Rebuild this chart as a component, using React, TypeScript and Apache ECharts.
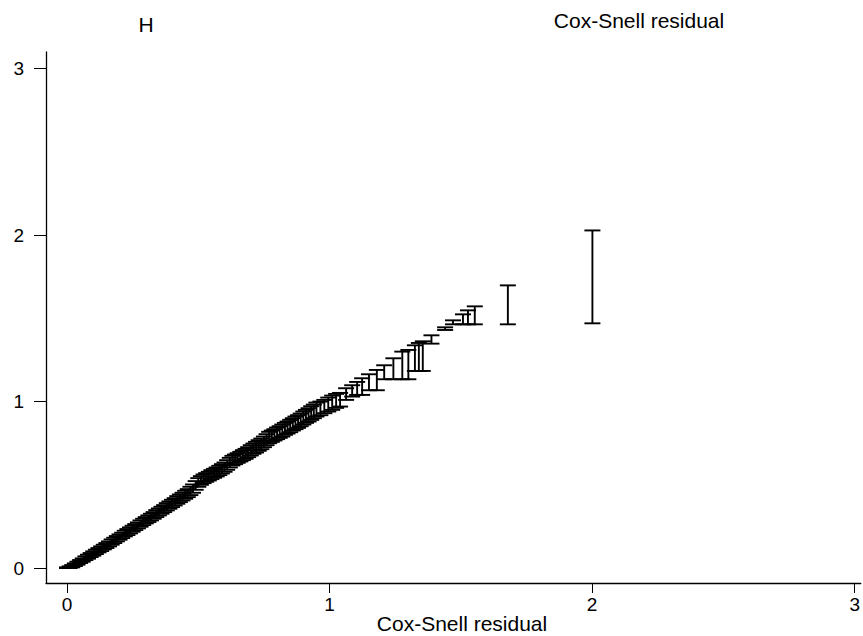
import React, { useEffect, useRef } from "react";
import * as echarts from "echarts";

// Cox-Snell residuals (x) and Nelson-Aalen cumulative hazard bounds (low/high)
const resid = [
  0.0, 0.01, 0.02, 0.03, 0.04, 0.05, 0.06, 0.07, 0.08, 0.09,
  0.1, 0.11, 0.12, 0.13, 0.14, 0.15, 0.16, 0.17, 0.18, 0.19,
  0.2, 0.21, 0.22, 0.23, 0.24, 0.25, 0.26, 0.27, 0.28, 0.29,
  0.3, 0.31, 0.32, 0.33, 0.34, 0.35, 0.36, 0.37, 0.38, 0.39,
  0.4, 0.41, 0.42, 0.43, 0.44, 0.45, 0.46, 0.47, 0.48, 0.49,
  0.5, 0.51, 0.52, 0.53, 0.54, 0.55, 0.56, 0.57, 0.58, 0.59,
  0.6, 0.61, 0.62, 0.63, 0.64, 0.65, 0.66, 0.67, 0.68, 0.69,
  0.7, 0.71, 0.72, 0.73, 0.74, 0.75, 0.76, 0.77, 0.78, 0.79,
  0.8, 0.81, 0.82, 0.83, 0.84, 0.85, 0.86, 0.87, 0.88, 0.89,
  0.9, 0.91, 0.92, 0.93, 0.94, 0.95, 0.965, 0.98, 0.995, 1.01,
  1.025, 1.04, 1.063, 1.086, 1.105, 1.124, 1.15, 1.18, 1.208, 1.243,
  1.277, 1.3, 1.325, 1.34, 1.355, 1.388, 1.44, 1.47, 1.508, 1.527,
  1.553, 1.679, 2.001,
];
const hazLow = [
  0.0, 0.0, 0.004, 0.012, 0.02, 0.03, 0.038, 0.048, 0.056, 0.066,
  0.074, 0.084, 0.094, 0.102, 0.112, 0.12, 0.13, 0.14, 0.15, 0.16,
  0.17, 0.18, 0.19, 0.198, 0.208, 0.218, 0.228, 0.238, 0.248, 0.258,
  0.268, 0.276, 0.286, 0.296, 0.306, 0.316, 0.326, 0.336, 0.346, 0.356,
  0.366, 0.376, 0.386, 0.396, 0.406, 0.416, 0.426, 0.438, 0.452, 0.47,
  0.488, 0.5, 0.51, 0.518, 0.526, 0.534, 0.542, 0.55, 0.558, 0.568,
  0.578, 0.59, 0.604, 0.616, 0.624, 0.632, 0.64, 0.648, 0.656, 0.666,
  0.676, 0.686, 0.694, 0.704, 0.714, 0.726, 0.738, 0.75, 0.758, 0.766,
  0.774, 0.782, 0.79, 0.8, 0.808, 0.816, 0.826, 0.834, 0.842, 0.852,
  0.862, 0.872, 0.88, 0.89, 0.9, 0.91, 0.918, 0.93, 0.94, 0.95,
  0.962, 0.97, 1.01, 1.03, 1.04, 1.04, 1.068, 1.068, 1.134, 1.134,
  1.134, 1.134, 1.184, 1.184, 1.184, 1.348, 1.43, 1.464, 1.464, 1.464,
  1.464, 1.464, 1.47,
];
const hazHigh = [
  0.004, 0.01, 0.018, 0.028, 0.038, 0.048, 0.058, 0.07, 0.08, 0.09,
  0.1, 0.11, 0.12, 0.13, 0.14, 0.15, 0.16, 0.172, 0.182, 0.192,
  0.202, 0.212, 0.224, 0.234, 0.244, 0.254, 0.264, 0.274, 0.286, 0.296,
  0.306, 0.316, 0.326, 0.336, 0.348, 0.358, 0.368, 0.378, 0.39, 0.4,
  0.41, 0.42, 0.432, 0.442, 0.452, 0.464, 0.474, 0.488, 0.502, 0.522,
  0.54, 0.552, 0.562, 0.57, 0.578, 0.588, 0.596, 0.604, 0.614, 0.624,
  0.634, 0.648, 0.662, 0.674, 0.682, 0.69, 0.698, 0.708, 0.716, 0.726,
  0.738, 0.748, 0.758, 0.768, 0.778, 0.79, 0.804, 0.818, 0.826, 0.834,
  0.844, 0.852, 0.862, 0.872, 0.88, 0.89, 0.9, 0.91, 0.918, 0.928,
  0.94, 0.95, 0.96, 0.972, 0.982, 0.994, 1.0, 1.01, 1.024, 1.036,
  1.046, 1.052, 1.08, 1.098, 1.118, 1.14, 1.164, 1.19, 1.218, 1.26,
  1.3, 1.31, 1.338, 1.352, 1.362, 1.398, 1.446, 1.488, 1.524, 1.548,
  1.572, 1.698, 2.028,
];

const xTicks = [0, 1, 2, 3];
const yTicks = [0, 1, 2, 3];

const FONT = "'Liberation Sans', Arial, Helvetica, sans-serif";

export default function App() {
  const ref = useRef<HTMLDivElement>(null);

  useEffect(() => {
    if (!ref.current) return;
    const chart = echarts.init(ref.current, null, { renderer: "svg" });
    const data = resid.map((r, i) => [r, hazLow[i], hazHigh[i]]);

    const option: any = {
      animation: false,
      backgroundColor: "#ffffff",
      grid: { left: 46, right: 0, top: 52, bottom: 53, containLabel: false },
      xAxis: {
        type: "value",
        min: -0.08,
        max: 3.023,
        axisLine: { show: true, onZero: false, lineStyle: { color: "#000", width: 1.3 } },
        axisTick: {
          show: true,
          length: 10,
          customValues: xTicks,
          lineStyle: { color: "#000", width: 1 },
        },
        axisLabel: {
          customValues: xTicks,
          margin: 12,
          color: "#000",
          fontFamily: FONT,
          fontSize: 19,
        },
        splitLine: { show: false },
      },
      yAxis: {
        type: "value",
        min: -0.09,
        max: 3.1,
        axisLine: { show: true, onZero: false, lineStyle: { color: "#000", width: 1.3 } },
        axisTick: {
          show: true,
          length: 12,
          customValues: yTicks,
          lineStyle: { color: "#000", width: 1 },
        },
        axisLabel: {
          customValues: yTicks,
          margin: 22,
          color: "#000",
          fontFamily: FONT,
          fontSize: 19,
        },
        splitLine: { show: false },
      },
      graphic: [
        {
          type: "text",
          x: 146,
          y: 24,
          style: {
            text: "H",
            fill: "#000",
            font: `21px ${FONT}`,
            textAlign: "center",
            textVerticalAlign: "middle",
          },
        },
        {
          type: "text",
          x: 639,
          y: 20,
          style: {
            text: "Cox-Snell residual",
            fill: "#000",
            font: `21px ${FONT}`,
            textAlign: "center",
            textVerticalAlign: "middle",
          },
        },
        {
          type: "text",
          x: 462,
          y: 623,
          style: {
            text: "Cox-Snell residual",
            fill: "#000",
            font: `21px ${FONT}`,
            textAlign: "center",
            textVerticalAlign: "middle",
          },
        },
      ],
      series: [
        {
          type: "custom",
          data,
          encode: { x: 0, y: [1, 2] },
          clip: false,
          renderItem: (params: any, api: any) => {
            const x = api.value(0);
            const lo = api.value(1);
            const hi = api.value(2);
            const pLo = api.coord([x, lo]);
            const pHi = api.coord([x, hi]);
            const w = 8;
            const st = { stroke: "#000", lineWidth: 1.9 };
            return {
              type: "group",
              children: [
                { type: "line", shape: { x1: pLo[0], y1: pLo[1], x2: pHi[0], y2: pHi[1] }, style: st },
                { type: "line", shape: { x1: pHi[0] - w, y1: pHi[1], x2: pHi[0] + w, y2: pHi[1] }, style: st },
                { type: "line", shape: { x1: pLo[0] - w, y1: pLo[1], x2: pLo[0] + w, y2: pLo[1] }, style: st },
              ],
            };
          },
        },
      ],
    };
    chart.setOption(option);
    return () => chart.dispose();
  }, []);

  return (
    <div
      ref={ref}
      style={{ position: "absolute", left: 0, top: 0, width: 863, height: 636 }}
    />
  );
}
